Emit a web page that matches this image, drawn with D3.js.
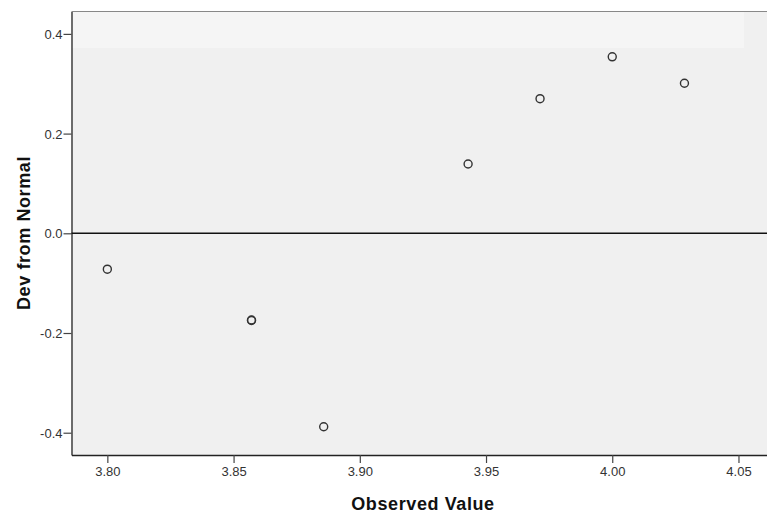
<!DOCTYPE html>
<html><head><meta charset="utf-8">
<script src="https://cdn.jsdelivr.net/npm/d3@7"></script>
<style>body{margin:0;background:#fff;}svg{display:block;}</style>
</head><body>
<svg id="c" width="767" height="516"></svg>
<script>
const observed = [3.8000, 3.8571, 3.8571, 3.8857, 3.9429, 3.9714, 4.0000, 4.0286];
const deviation = [-0.072, -0.174, -0.175, -0.388, 0.139, 0.270, 0.354, 0.301];
const xTicks = [3.80, 3.85, 3.90, 3.95, 4.00, 4.05];
const yTicks = [0.4, 0.2, 0.0, -0.2, -0.4];
const xTitle = "Observed Value";
const yTitle = "Dev from Normal";

const svg = d3.select("#c");
const L = 71.5, R = 767, T = 11.5, B = 455;
const x = d3.scaleLinear().domain([3.7858, 4.0613]).range([L, R]);
const y = d3.scaleLinear().domain([-0.4447, 0.4449]).range([B, T]);
const hy = (s) => s.replace("\u2212", "-");

svg.append("rect").attr("x", L).attr("y", T).attr("width", R - L).attr("height", B - T).attr("fill", "#f0f0f0");
// faint lighter band (watermark wash)
svg.append("rect").attr("x", L).attr("y", T).attr("width", 744 - L).attr("height", 48 - T).attr("fill", "#fff").attr("opacity", 0.35);

svg.append("line").attr("x1", L).attr("x2", R).attr("y1", T).attr("y2", T).attr("stroke", "#888").attr("stroke-width", 1);

const tickFont = "'Liberation Sans', Arial, sans-serif";
const xAxis = svg.append("g").attr("transform", `translate(0,${B})`)
  .call(d3.axisBottom(x).tickValues(xTicks).tickFormat(d => hy(d3.format(".2f")(d))).tickSize(8).tickSizeOuter(0));
const yAxis = svg.append("g").attr("transform", `translate(${L},0)`)
  .call(d3.axisLeft(y).tickValues(yTicks).tickFormat(d => hy(d3.format(".1f")(d))).tickSize(8).tickSizeOuter(0));
[xAxis, yAxis].forEach(g => {
  g.select(".domain").attr("stroke", "#222").attr("stroke-width", 1.3);
  g.selectAll(".tick line").attr("stroke", "#444").attr("stroke-width", 1.2);
  g.selectAll(".tick text").attr("fill", "#333").style("font-family", tickFont).style("font-size", "13px");
});
xAxis.selectAll(".tick text").attr("y", 12).attr("dy", "0.71em");
yAxis.selectAll(".tick text").attr("x", -9).attr("dy", "0.34em");

svg.append("line").attr("x1", L).attr("x2", R).attr("y1", y(0)).attr("y2", y(0)).attr("stroke", "#111").attr("stroke-width", 1.4);

svg.append("g").selectAll("circle").data(observed).join("circle")
  .attr("cx", (d) => x(d)).attr("cy", (d, i) => y(deviation[i])).attr("r", 4)
  .attr("fill", "none").attr("stroke", "#333").attr("stroke-width", 1.4);

svg.append("text").attr("x", 423).attr("y", 510).attr("text-anchor", "middle")
  .style("font-family", "'Liberation Sans', Arial, sans-serif").style("font-weight", "bold").style("font-size", "18px").style("letter-spacing", "0.6px").attr("fill", "#111").text(xTitle);
svg.append("text").attr("transform", "translate(30,233) rotate(-90)").attr("text-anchor", "middle")
  .style("font-family", "'Liberation Sans', Arial, sans-serif").style("font-weight", "bold").style("font-size", "18px").style("letter-spacing", "0.6px").attr("fill", "#111").text(yTitle);
</script>
</body></html>
